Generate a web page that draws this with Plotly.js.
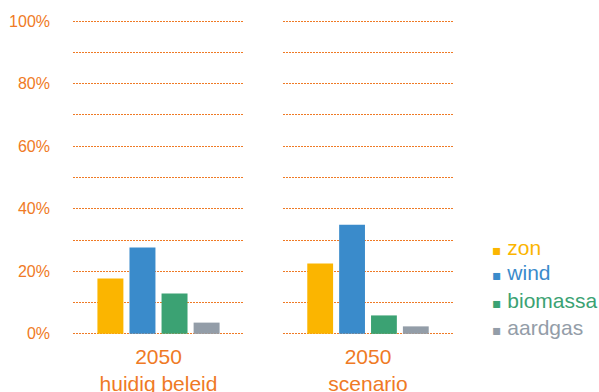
<!DOCTYPE html>
<html><head><meta charset="utf-8">
<script src="https://cdn.plot.ly/plotly-3.0.1.min.js"></script>
<style>html,body{margin:0;padding:0;background:#fff}#chart{width:599px;height:392px}</style>
</head><body><div id="chart"></div>
<script>
// Electricity mix share per source, 2050
const scenarios = ['2050<br>huidig beleid', '2050<br>scenario'];
const sources = ['zon', 'wind', 'biomassa', 'aardgas'];
const zon = [17.7, 22.5];
const wind = [27.6, 34.9];
const biomassa = [12.9, 5.9];
const aardgas = [3.6, 2.4];
const yTicks = [0, 20, 40, 60, 80, 100];
const yTickText = ['0%', '20%', '40%', '60%', '80%', '100%'];

const values = [zon, wind, biomassa, aardgas];
const colors = ['#FBB500', '#3A8BCB', '#3BA273', '#939DA8'];
const orange = '#EF7A25';
const font = 'Liberation Sans, Arial, Helvetica, sans-serif';

const traces = [];
// one subplot per scenario, four grouped bars each
scenarios.forEach((sc, p) => {
  sources.forEach((src, i) => {
    traces.push({
      type: 'bar',
      x: [sc],
      y: [values[i][p]],
      xaxis: p === 0 ? 'x' : 'x2',
      yaxis: 'y',
      marker: {color: colors[i]},
      showlegend: false,
      hoverinfo: 'skip'
    });
  });
});

// legend: one small legend per source, square key + coloured label
const legendIds = ['legend', 'legend2', 'legend3', 'legend4'];
sources.forEach((src, i) => {
  traces.push({
    type: 'scatter', mode: 'none',
    x: [null], y: [null], xaxis: 'x', yaxis: 'y',
    name: '<span style="color:' + colors[i] + ';font-family:DejaVu Sans;font-size:14px">\u25AA</span> ' +
          '<span style="color:' + colors[i] + '">' + src + '</span>',
    legend: legendIds[i],
    showlegend: true
  });
});

const xCommon = {
  type: 'category', showgrid: false, zeroline: false, showline: false,
  ticks: '', tickfont: {family: font, size: 21, color: orange},
  ticklabelstandoff: 5, fixedrange: true
};

const legendBase = {
  x: 452 / 599, xanchor: 'left', yanchor: 'middle',
  font: {family: font, size: 21}, bgcolor: 'rgba(0,0,0,0)',
  itemclick: false, itemdoubleclick: false
};
// vertical centres of the legend rows, in paper units
const legendRows = [247, 272, 300, 327].map(px => (337 - px) / 319);

const layout = {
  width: 599, height: 392,
  margin: {l: 0, r: 0, t: 18, b: 55, autoexpand: false},
  paper_bgcolor: '#fff', plot_bgcolor: '#fff',
  barmode: 'group', bargap: 0.25, bargroupgap: 0.19,
  font: {family: font, color: orange},
  xaxis: Object.assign({domain: [73 / 599, 244 / 599], anchor: 'y'}, xCommon),
  xaxis2: Object.assign({domain: [283 / 599, 453 / 599], anchor: 'y'}, xCommon),
  yaxis: {
    range: [-1, 101], tickvals: yTicks, ticktext: yTickText,
    showgrid: true, gridcolor: orange, griddash: '2px,1px', gridwidth: 1,
    minor: {dtick: 10, showgrid: true, gridcolor: orange, griddash: '2px,1px', gridwidth: 1, ticks: ''},
    zeroline: false, showline: false, ticks: '',
    tickfont: {family: font, size: 16, color: orange},
    ticklabelstandoff: 22, fixedrange: true
  },
  showlegend: true
};
legendIds.forEach((id, i) => {
  layout[id] = Object.assign({y: legendRows[i]}, legendBase);
});

Plotly.newPlot('chart', traces, layout, {displayModeBar: false, staticPlot: true});
</script>
</body></html>
